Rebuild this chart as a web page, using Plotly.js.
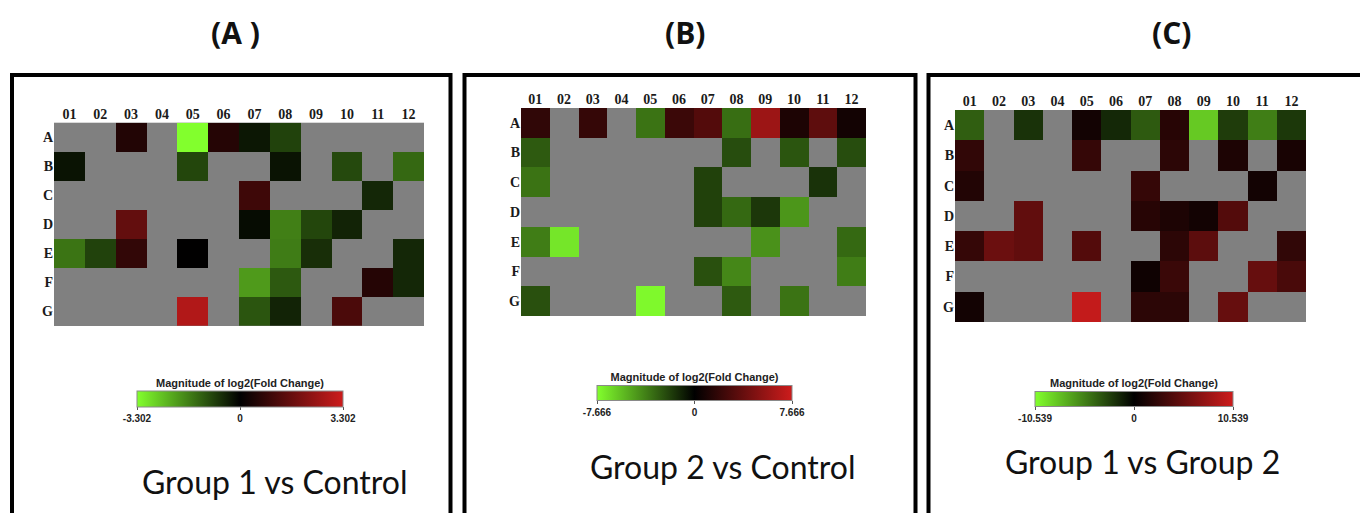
<!DOCTYPE html>
<html>
<head>
<meta charset="utf-8">
<script src="https://cdn.plot.ly/plotly-3.0.1.min.js"></script>
<style>
html,body{margin:0;padding:0;background:#fff;}
#chart{width:1360px;height:513px;}
</style>
</head>
<body>
<div id="chart"></div>
<script>
// ---------- data ----------
const cols = ['01','02','03','04','05','06','07','08','09','10','11','12'];
const rows = ['A','B','C','D','E','F','G'];

const panelTitles = ['(A )', '(B)', '(C)'];
const panelCaptions = ['Group 1 vs Control', 'Group 2 vs Control', 'Group 1 vs Group 2'];
const scaleMax = [3.302, 7.666, 10.539];
const scaleTickText = [['-3.302','0','3.302'], ['-7.666','0','7.666'], ['-10.539','0','10.539']];
const colorbarTitle = 'Magnitude of log2(Fold Change)';

// log2 fold change, rows A..G x columns 01..12 (null = not measured)
const zGroup1VsControl = [
  [null, null, 0.55, null, -3.302, 0.6, -0.3, -0.85, null, null, null, null],
  [-0.25, null, null, null, -0.9, null, null, -0.25, null, -0.95, null, -1.35],
  [null, null, null, null, null, null, 1.0, null, null, null, -0.5, null],
  [null, null, 1.6, null, null, null, -0.15, -1.65, -0.9, -0.45, null, null],
  [-1.5, -0.85, 0.8, null, 0.02, null, null, -1.6, -0.6, null, null, -0.5],
  [null, null, null, null, null, null, -2.0, -1.15, null, null, 0.6, -0.5],
  [null, null, null, null, 2.85, null, -1.1, -0.45, null, 1.2, null, null]
];
const zGroup2VsControl = [
  [1.8, null, 2.0, null, -3.45, 2.2, 3.1, -3.3, 5.85, 1.1, 3.5, 0.7],
  [-2.7, null, null, null, null, null, null, -2.3, null, -2.55, null, -2.3],
  [-3.45, null, null, null, null, null, -1.95, null, null, null, -1.5, null],
  [null, null, null, null, null, null, -1.95, -3.15, -1.65, -4.5, null, null],
  [-3.75, -6.9, null, null, null, null, null, null, -4.35, null, null, -3.15],
  [null, null, null, null, null, null, -2.4, -4.05, null, null, null, -3.75],
  [-2.4, null, null, null, -7.5, null, null, -2.7, null, -3.45, null, null]
];
const zGroup1VsGroup2 = [
  [-3.9, null, -2.05, null, 1.0, -1.65, -3.7, 2.0, -8.3, -2.5, -5.2, -2.3],
  [2.5, null, null, null, 2.75, null, null, 2.25, null, 1.5, null, 1.25],
  [1.75, null, null, null, null, null, 2.75, null, null, null, 1.0, null],
  [null, null, 5.0, null, null, null, 2.0, 1.5, 1.0, 4.25, null, null],
  [2.75, 5.5, 5.0, null, 4.25, null, null, 2.25, 4.75, null, null, 2.5],
  [null, null, null, null, null, null, 0.75, 3.0, null, null, 5.25, 3.75],
  [1.0, null, null, null, 10.0, null, 2.25, 2.25, null, 5.25, null, null]
];
const panelZ = [zGroup1VsControl, zGroup2VsControl, zGroup1VsGroup2];

// ---------- layout helpers ----------
const W = 1360, H = 513;
const px = x => x / W;
const py = y => 1 - y / H;

const heatBoxes = [ // [left, right, top, bottom] in px
  [54, 424, 122.7, 326],
  [521, 866, 108, 316],
  [955, 1306, 110, 322]
];
const cbars = [ // [centerX, centerY, length, thickness]
  [240, 402, 206, 16],
  [694.5, 395.5, 195, 15],
  [1134, 401.5, 198, 15]
];
const frames = [ // [x0, x1, y0, y1]
  [12, 450.5, 75, 522],
  [464.5, 915.5, 75, 522],
  [928.5, 1364, 75, 522]
];
const titlePos = [[235, 32], [685, 32], [1171, 32]];
const captionPos = [[274.5, 481], [722.5, 466], [1142.5, 461]];

const colorscale = [
  [0, 'rgb(130,255,45)'],
  [0.5, 'rgb(0,0,0)'],
  [1, 'rgb(205,28,28)']
];

const traces = [];
const layout = {
  width: W, height: H,
  margin: {l: 0, r: 0, t: 0, b: 0, pad: 0},
  paper_bgcolor: '#ffffff',
  plot_bgcolor: '#808080',
  showlegend: false,
  shapes: [],
  annotations: []
};

const tickFont = {family: 'Liberation Serif, DejaVu Serif, serif', size: 14, color: '#1a1a1a', weight: 'bold'};

for (let i = 0; i < 3; i++) {
  const sfx = i === 0 ? '' : String(i + 1);
  const m = scaleMax[i];
  traces.push({
    type: 'heatmap',
    z: panelZ[i],
    x: cols,
    y: rows,
    xaxis: 'x' + sfx,
    yaxis: 'y' + sfx,
    zmin: -m, zmax: m,
    colorscale: colorscale,
    hoverongaps: false,
    showscale: true,
    colorbar: {
      orientation: 'h',
      x: px(cbars[i][0]), xanchor: 'center',
      y: py(cbars[i][1]), yanchor: 'middle',
      len: cbars[i][2], lenmode: 'pixels',
      thickness: cbars[i][3], thicknessmode: 'pixels',
      xpad: 0, ypad: 0,
      outlinecolor: '#8a8a8a', outlinewidth: 1,
      tickvals: [-m, 0, m],
      ticktext: scaleTickText[i],
      ticks: 'outside', ticklen: 3, tickcolor: '#555',
      tickfont: {family: 'Liberation Sans, Arial, sans-serif', size: 10, color: '#222', weight: 'bold'},
      title: {text: colorbarTitle, side: 'top',
              font: {family: 'Liberation Sans, Arial, sans-serif', size: 11, color: '#222', weight: 'bold'}}
    }
  });
  const hb = heatBoxes[i];
  layout['xaxis' + sfx] = {
    domain: [px(hb[0]), px(hb[1])],
    anchor: 'y' + sfx,
    side: 'top',
    type: 'category',
    showgrid: false, zeroline: false, showline: false, ticks: '',
    tickfont: tickFont,
    fixedrange: true
  };
  layout['yaxis' + sfx] = {
    domain: [py(hb[3]), py(hb[2])],
    anchor: 'x' + sfx,
    type: 'category',
    autorange: 'reversed',
    showgrid: false, zeroline: false, showline: false, ticks: '',
    tickfont: tickFont,
    fixedrange: true
  };
  const f = frames[i];
  layout.shapes.push({
    type: 'rect', xref: 'paper', yref: 'paper',
    x0: px(f[0]), x1: px(f[1]), y0: py(f[3]), y1: py(f[2]),
    line: {color: '#000', width: 4}, fillcolor: 'rgba(0,0,0,0)', layer: 'above'
  });
  layout.annotations.push({
    xref: 'paper', yref: 'paper',
    x: px(titlePos[i][0]), y: py(titlePos[i][1]),
    xanchor: 'center', yanchor: 'middle', showarrow: false,
    text: panelTitles[i],
    font: {family: 'Open Sans, Lato, sans-serif', size: 30, color: '#111', weight: 'bold'}
  });
  layout.annotations.push({
    xref: 'paper', yref: 'paper',
    x: px(captionPos[i][0]), y: py(captionPos[i][1]),
    xanchor: 'center', yanchor: 'middle', showarrow: false,
    text: panelCaptions[i],
    font: {family: 'Lato, Open Sans, sans-serif', size: 32, color: '#111'}
  });
}

Plotly.newPlot('chart', traces, layout, {displayModeBar: false, staticPlot: true});
</script>
</body>
</html>
